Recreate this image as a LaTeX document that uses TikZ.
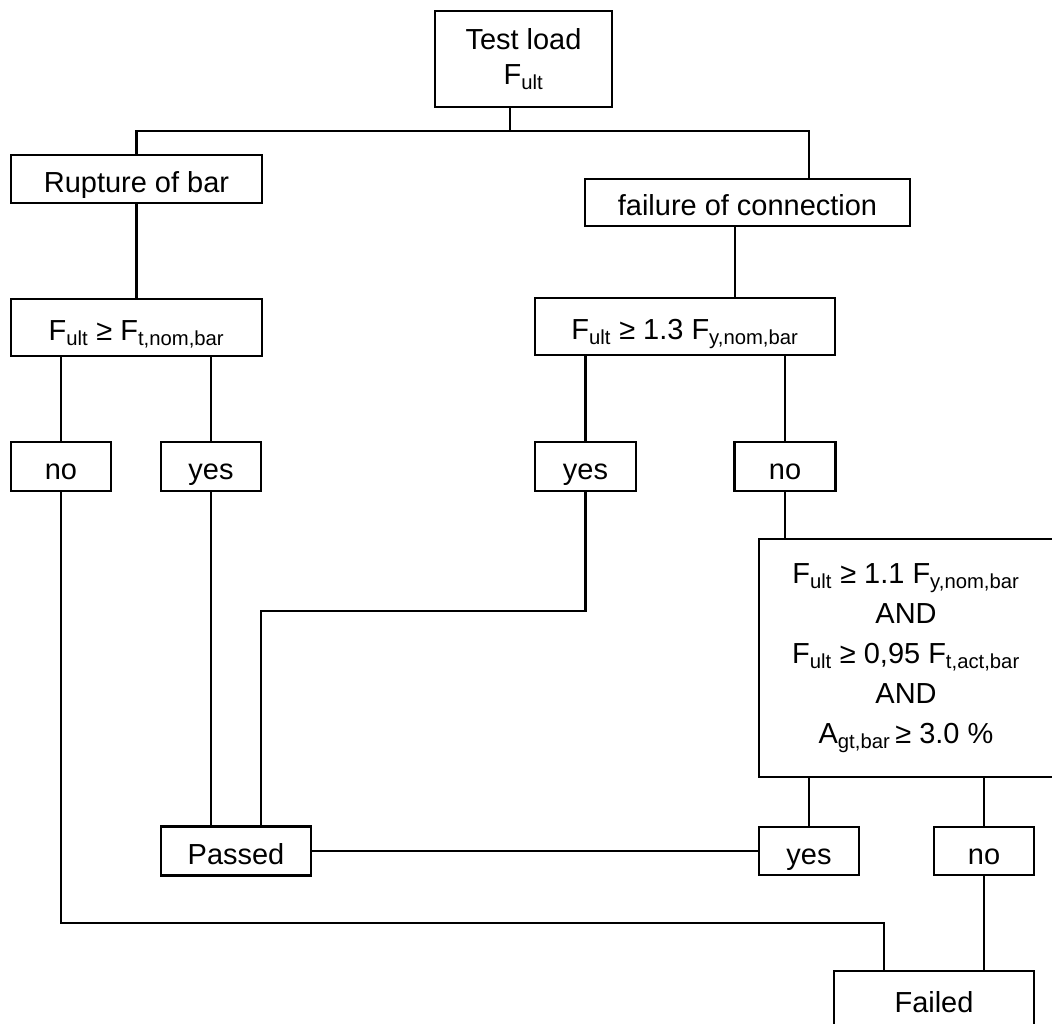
\documentclass[tikz,border=0pt]{standalone}
\usepackage{fontspec}
\setmainfont{Liberation Sans}
\usetikzlibrary{positioning, calc}
\newcommand{\lo}[1]{\textsubscript{#1}}

\begin{document}
\begin{tikzpicture}[
    x=0.025cm, y=-0.025cm,
    box/.style={rectangle, draw=black, fill=white, line width=1.6pt, inner sep=0pt, outer sep=0pt, align=center, font=\fontsize{20.6}{25}\selectfont},
    one/.style={box, text height=19pt, text depth=0pt},
    sz/.style 2 args={minimum width=#1*0.025cm, minimum height=#2*0.025cm},
    link/.style={line width=1.6pt}
]
    \useasboundingbox (0,0) rectangle (1052,1024);

    % Test
    \node[box, sz={177}{96}] (test) at (523.5,59) {Test load\\F\lo{ult}};

    % Failure modes
    \node[one, sz={251}{48}] (rupture) at (136.5,179) {Rupture of bar};
    \node[one, sz={325}{47}] (failconn) at (747.5,202.5) {failure of connection};

    % First checks
    \node[one, sz={251}{57}] (checkA) at (136.5,327.5) {F\lo{ult} ≥ F\lo{t,nom,bar}};
    \node[one, sz={300}{57}] (checkB) at (685,326.5) {F\lo{ult} ≥ 1.3 F\lo{y,nom,bar}};

    % Answers
    \node[one, sz={100}{49}] (noA) at (61,466.5) {no};
    \node[one, sz={100}{49}] (yesA) at (211,466.5) {yes};
    \node[one, sz={101}{49}] (yesB) at (585.5,466.5) {yes};
    \node[one, sz={101}{49}] (noB) at (785,466.5) {no};

    % Second check
    \node[box, sz={294}{238}, font=\fontsize{20.6}{28.5}\selectfont] (checkC) at (906,658)
        {F\lo{ult} ≥ 1.1 F\lo{y,nom,bar}\\AND\\F\lo{ult} ≥ 0,95 F\lo{t,act,bar}\\AND\\A\lo{gt,bar}\,≥ 3.0 \%};

    % Results
    \node[one, sz={150}{49}] (passed) at (236,851) {Passed};
    \node[one, sz={100}{48}] (yesC) at (809,851) {yes};
    \node[one, sz={100}{48}] (noC) at (984,851) {no};
    \node[one, sz={200}{56}] (failed) at (934,999) {Failed};

    % Connections
    \coordinate (top) at (510,131);
    \coordinate (topR) at (809,131);
    \coordinate (conn) at (735,0);
    \coordinate (bend) at (261,611);
    \coordinate (down) at (884,923);

    \draw[link] (test.south -| top) -- (top);
    \draw[link] (rupture.north) |- (topR) -- (topR |- failconn.north);
    \draw[link] (rupture.south) -- (checkA.north);
    \draw[link] (failconn.south -| conn) -- (checkB.north -| conn);

    \draw[link] (checkA.south -| noA) -- (noA.north);
    \draw[link] (checkA.south -| yesA) -- (yesA.north);
    \draw[link] (checkB.south -| yesB) -- (yesB.north);
    \draw[link] (checkB.south -| noB) -- (noB.north);

    \draw[link] (noB.south) -- (checkC.north -| noB);
    \draw[link] (checkC.south -| yesC) -- (yesC.north);
    \draw[link] (checkC.south -| noC) -- (noC.north);

    \draw[link] (yesA.south) -- (passed.north -| yesA);
    \draw[link] (yesB.south) |- (bend) -- (bend |- passed.north);
    \draw[link] (passed.east) -- (yesC.west);
    \draw[link] (noA.south) |- (down) -- (down |- failed.north);
    \draw[link] (noC.south) -- (failed.north -| noC);
\end{tikzpicture}
\end{document}
